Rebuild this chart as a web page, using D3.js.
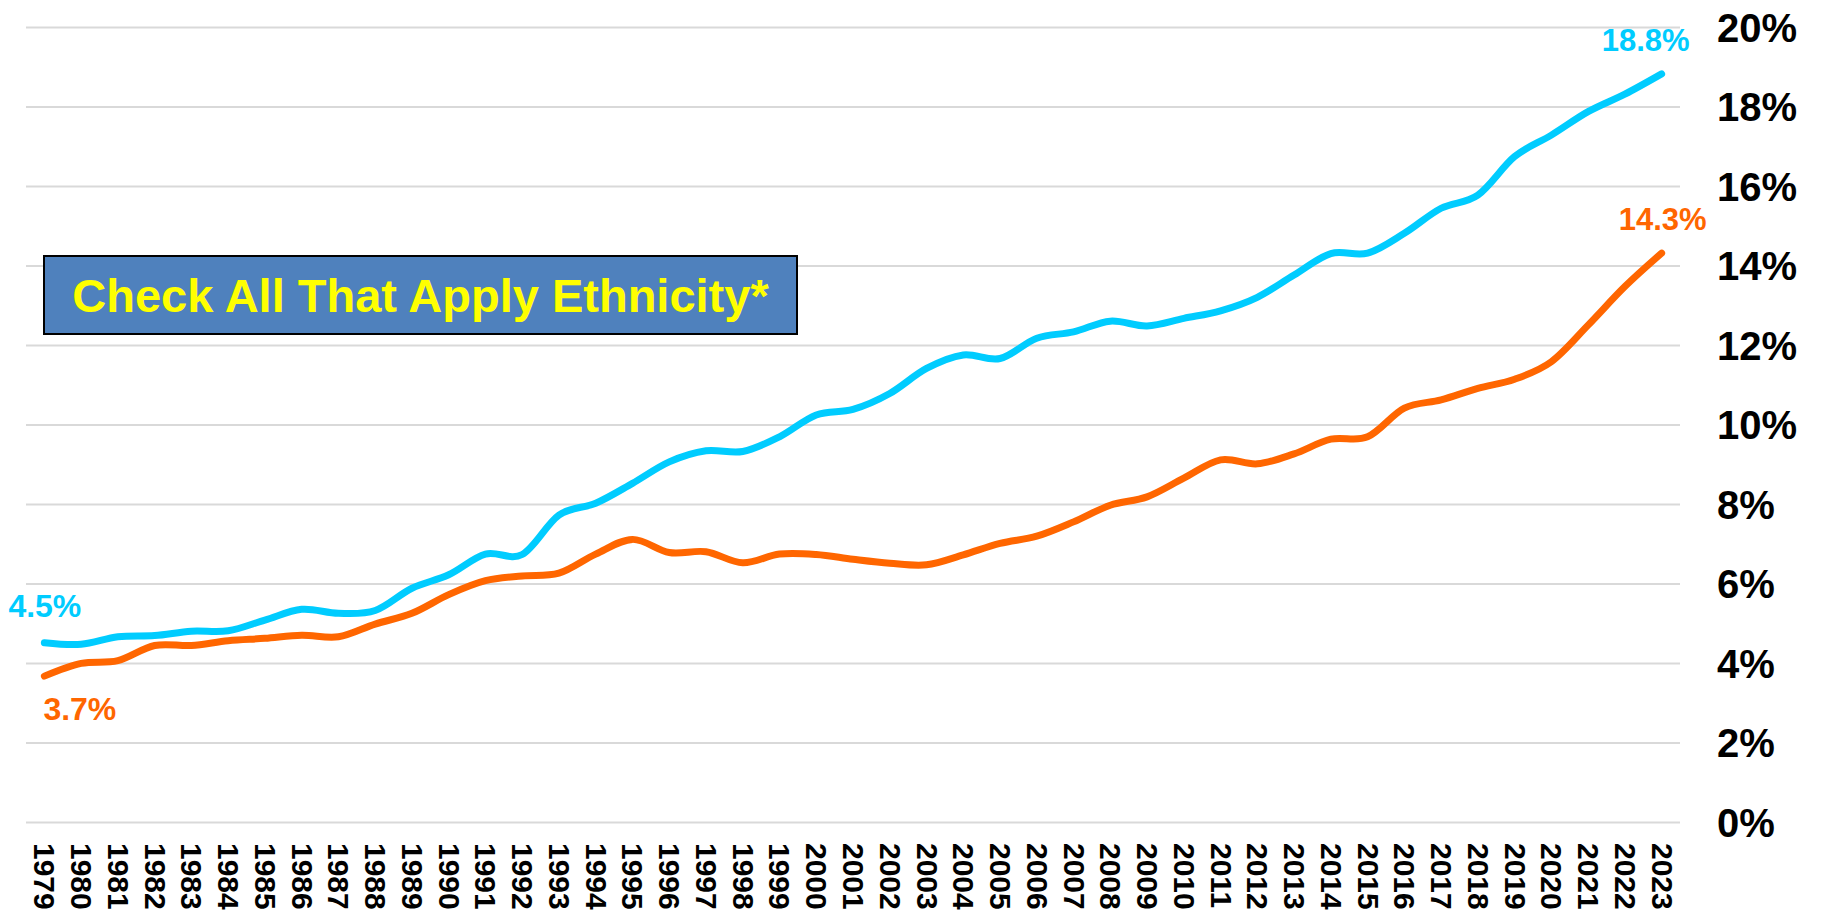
<!DOCTYPE html>
<html>
<head>
<meta charset="utf-8">
<script src="https://cdn.jsdelivr.net/npm/d3@7"></script>
<style>
    body { margin: 0; background: #fff; }
    #chart { width: 1825px; height: 913px; overflow: hidden; }
    text { font-family: "Liberation Sans", Arial, sans-serif; font-weight: bold; }
</style>
</head>
<body>
<div id="chart"></div>
<script>
var years = [1979, 1980, 1981, 1982, 1983, 1984, 1985, 1986, 1987, 1988,
    1989, 1990, 1991, 1992, 1993, 1994, 1995, 1996, 1997, 1998,
    1999, 2000, 2001, 2002, 2003, 2004, 2005, 2006, 2007, 2008,
    2009, 2010, 2011, 2012, 2013, 2014, 2015, 2016, 2017, 2018,
    2019, 2020, 2021, 2022, 2023];

// check all that apply (blue line)
var check_all = [4.51, 4.47, 4.66, 4.69, 4.80, 4.81, 5.08, 5.35, 5.25, 5.32,
    5.88, 6.22, 6.74, 6.73, 7.72, 8.02, 8.52, 9.06, 9.34, 9.32,
    9.69, 10.24, 10.38, 10.78, 11.41, 11.75, 11.66, 12.17, 12.33, 12.60,
    12.48, 12.67, 12.86, 13.20, 13.76, 14.30, 14.31, 14.81, 15.44, 15.77,
    16.74, 17.28, 17.87, 18.31, 18.82];

// orange line
var single_eth = [3.67, 3.99, 4.06, 4.44, 4.44, 4.56, 4.62, 4.70, 4.66, 4.98,
    5.25, 5.72, 6.07, 6.19, 6.26, 6.74, 7.11, 6.78, 6.80, 6.52,
    6.74, 6.73, 6.61, 6.51, 6.47, 6.72, 7.01, 7.19, 7.55, 7.97,
    8.18, 8.65, 9.11, 9.01, 9.26, 9.63, 9.69, 10.41, 10.62, 10.91,
    11.14, 11.58, 12.50, 13.47, 14.31];

var y_ticks = [0, 2, 4, 6, 8, 10, 12, 14, 16, 18, 20];
var box_label = 'Check All That Apply Ethnicity*';

// Chart params
var svg_width  = 1825;
var svg_height = 913;
var plot_left  = 26;
var plot_right = 1680;
var plot_top   = 27;
var plot_bottom = 822;

var blue_color   = '#00CCFF';
var orange_color = '#FF6600';
var grid_color   = '#D9D9D9';

var svg = d3.select('#chart')
    .append('svg')
    .attr('width', svg_width)
    .attr('height', svg_height);

svg.append('rect')
    .attr('width', svg_width)
    .attr('height', svg_height)
    .attr('fill', '#fff');

// Create scales
var x_scale = d3.scalePoint()
    .domain(years)
    .range([plot_left, plot_right])
    .padding(0.5);

var y_scale = d3.scaleLinear()
    .domain([0, 20])
    .range([plot_bottom, plot_top]);

// Gridlines
var grid = svg.append('g')
    .attr('transform', 'translate(' + plot_right + ',0)')
    .call(d3.axisLeft(y_scale).tickValues(y_ticks).tickSize(plot_right - plot_left).tickFormat(''));
grid.select('.domain').remove();
grid.selectAll('line')
    .attr('stroke', grid_color)
    .attr('stroke-width', 2);

// Y labels on the right
var y_axis = svg.append('g')
    .attr('transform', 'translate(1717,0)')
    .call(d3.axisRight(y_scale).tickValues(y_ticks).tickSize(0).tickPadding(0)
        .tickFormat(function(d) { return d + '%'; }));
y_axis.select('.domain').remove();
y_axis.selectAll('text')
    .attr('fill', '#000')
    .style('font-size', '40px')
    .attr('dy', '0.35em');

// X labels, turned 90 degrees
var x_axis = svg.append('g')
    .attr('transform', 'translate(0,' + plot_bottom + ')')
    .call(d3.axisBottom(x_scale).tickSize(0));
x_axis.select('.domain').remove();
x_axis.selectAll('text')
    .attr('transform', 'rotate(90)')
    .attr('x', 21)
    .attr('y', 0)
    .attr('dy', '0.35em')
    .attr('text-anchor', 'start')
    .attr('fill', '#000')
    .style('font-size', '30px');

// Lines
var line = d3.line()
    .x(function(d, i) { return x_scale(years[i]); })
    .y(function(d) { return y_scale(d); })
    .curve(d3.curveCatmullRom.alpha(0));

svg.append('path')
    .datum(single_eth)
    .attr('d', line)
    .attr('fill', 'none')
    .attr('stroke', orange_color)
    .attr('stroke-width', 7)
    .attr('stroke-linecap', 'round')
    .attr('stroke-linejoin', 'round');

svg.append('path')
    .datum(check_all)
    .attr('d', line)
    .attr('fill', 'none')
    .attr('stroke', blue_color)
    .attr('stroke-width', 7)
    .attr('stroke-linecap', 'round')
    .attr('stroke-linejoin', 'round');

// End point labels
var first = 0, last = years.length - 1;
function fmt(v) { return v.toFixed(1) + '%'; }

svg.append('text')
    .attr('x', x_scale(years[first]) - 36)
    .attr('y', y_scale(check_all[first]) - 26)
    .attr('fill', blue_color)
    .style('font-size', '32px')
    .text(fmt(check_all[first]));

svg.append('text')
    .attr('x', x_scale(years[first]) - 1)
    .attr('y', y_scale(single_eth[first]) + 44)
    .attr('fill', orange_color)
    .style('font-size', '32px')
    .text(fmt(single_eth[first]));

svg.append('text')
    .attr('x', x_scale(years[last]) - 16)
    .attr('y', y_scale(check_all[last]) - 23)
    .attr('text-anchor', 'middle')
    .attr('fill', blue_color)
    .style('font-size', '31px')
    .text(fmt(check_all[last]));

svg.append('text')
    .attr('x', x_scale(years[last]) + 1)
    .attr('y', y_scale(single_eth[last]) - 23)
    .attr('text-anchor', 'middle')
    .attr('fill', orange_color)
    .style('font-size', '31px')
    .text(fmt(single_eth[last]));

// Label box
svg.append('rect')
    .attr('x', 44)
    .attr('y', 256)
    .attr('width', 753)
    .attr('height', 78)
    .attr('fill', '#4F81BD')
    .attr('stroke', '#000')
    .attr('stroke-width', 2);

svg.append('text')
    .attr('x', 420.5)
    .attr('y', 312)
    .attr('text-anchor', 'middle')
    .attr('fill', '#FFFF00')
    .style('font-size', '47px')
    .text(box_label);
</script>
</body>
</html>
